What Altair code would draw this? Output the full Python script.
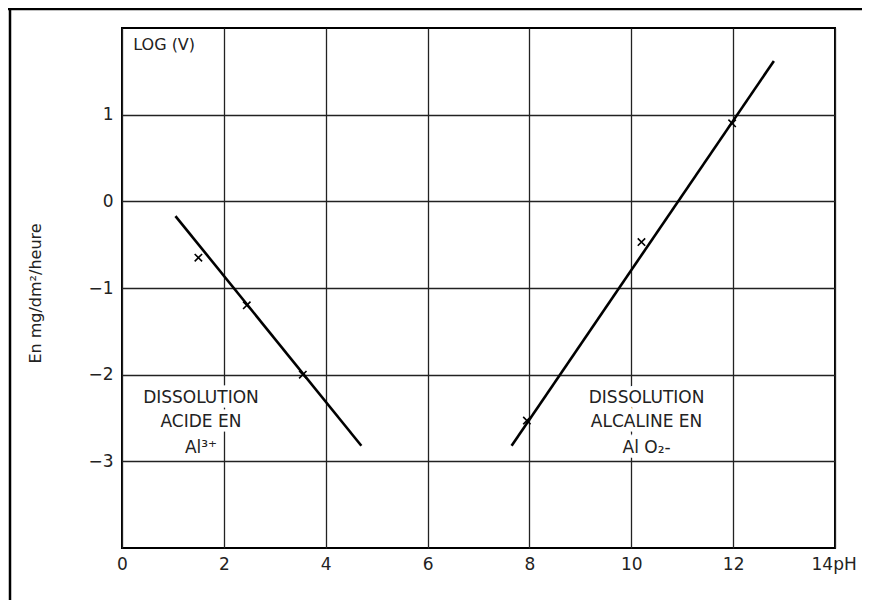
import altair as alt
import pandas as pd

# ---- data ----
acid_line_x = [1.05, 4.7]
acid_line_y = [-0.17, -2.82]
alk_line_x = [7.65, 12.8]
alk_line_y = [-2.82, 1.62]

acid_pts_x = [1.5, 2.45, 3.55]
acid_pts_y = [-0.65, -1.2, -2.0]
alk_pts_x = [7.95, 10.2, 11.98]
alk_pts_y = [-2.53, -0.47, 0.9]

x_ticks = [0, 2, 4, 6, 8, 10, 12, 14]
y_ticks = [-3, -2, -1, 0, 1]

ann_text = ["DISSOLUTION", "ACIDE  EN", "Al³⁺",
            "DISSOLUTION", "ALCALINE  EN", "Al O₂-"]
ann_x = [1.55, 1.55, 1.55, 10.3, 10.3, 10.3]
ann_y = [-2.27, -2.55, -2.85, -2.27, -2.55, -2.85]

FONT = "DejaVu Sans"

lines = pd.DataFrame({
    "x": acid_line_x + alk_line_x,
    "y": acid_line_y + alk_line_y,
    "seg": ["acid"] * 2 + ["alk"] * 2,
})
pts = pd.DataFrame({
    "x": acid_pts_x + alk_pts_x,
    "y": acid_pts_y + alk_pts_y,
})
ann = pd.DataFrame({"t": ann_text, "x": ann_x, "y": ann_y})
logv = pd.DataFrame({"t": ["LOG (V)"], "x": [0.22], "y": [1.8]})

xs = alt.Scale(domain=[0, 14], nice=False, zero=False)
ys = alt.Scale(domain=[-4, 2], nice=False, zero=False)

X = alt.X("x:Q", scale=xs, axis=alt.Axis(
    values=x_ticks, title=None, grid=True, gridColor="#222", gridWidth=1.3,
    gridOpacity=1, domain=False, ticks=False, labelPadding=8,
    labelExpr="datum.value == 14 ? '14pH' : datum.label",
    labelAlign=alt.condition("datum.value == 14", alt.value("left"),
                             alt.value("center")),
    labelOffset=alt.condition("datum.value == 14", alt.value(-24),
                              alt.value(0)),
    labelFont=FONT, labelFontSize=17, labelColor="#222"))
Y = alt.Y("y:Q", scale=ys, axis=alt.Axis(
    values=y_ticks, format="d", title="En mg/dm²/heure", grid=True,
    gridColor="#222", gridWidth=1.3, gridOpacity=1, domain=False,
    ticks=False, labelPadding=9,
    labelFont=FONT, labelFontSize=17, labelColor="#222",
    titleFont=FONT, titleFontSize=16, titleFontWeight="normal",
    titleColor="#222", titleAngle=-90, titleX=-79, titleY=265,
    titleAlign="center", titleBaseline="bottom"))

line_layer = alt.Chart(lines).mark_line(color="black", strokeWidth=2.6).encode(
    x=X, y=Y, detail="seg:N")

pt_layer = alt.Chart(pts).mark_point(
    shape="M-1,-1L1,1M-1,1L1,-1", size=55, color="black", strokeWidth=1.6,
    filled=False, opacity=1).encode(x="x:Q", y="y:Q")

halo = alt.Chart(ann).mark_text(
    font=FONT, fontSize=17, color="white", stroke="white", strokeWidth=9,
    align="center", baseline="middle").encode(x="x:Q", y="y:Q", text="t:N")
ann_layer = alt.Chart(ann).mark_text(
    font=FONT, fontSize=17, color="#222", align="center",
    baseline="middle").encode(x="x:Q", y="y:Q", text="t:N")

logv_halo = alt.Chart(logv).mark_text(
    font=FONT, fontSize=16, color="white", stroke="white", strokeWidth=6,
    align="left", baseline="middle").encode(x="x:Q", y="y:Q", text="t:N")
logv_layer = alt.Chart(logv).mark_text(
    font=FONT, fontSize=16, color="#222", align="left",
    baseline="middle").encode(x="x:Q", y="y:Q", text="t:N")

# outer frame of the scanned figure (top and left edges)
frame_top = alt.Chart(pd.DataFrame({"a": [0]})).mark_rule(
    color="black", strokeWidth=2.5).encode(
    x=alt.value(-114), x2=alt.value(760), y=alt.value(-19))
frame_left = alt.Chart(pd.DataFrame({"a": [0]})).mark_rule(
    color="black", strokeWidth=2.5).encode(
    x=alt.value(-112), y=alt.value(-20), y2=alt.value(600))

chart = alt.layer(
    halo, logv_halo, line_layer, pt_layer, ann_layer, logv_layer,
    frame_top, frame_left
).properties(
    width=713, height=520,
    autosize=alt.AutoSizeParams(type="none"),
    padding={"left": 114, "top": 20, "right": 27, "bottom": 52},
    background="white",
).configure_view(stroke="black", strokeWidth=2)

chart.save("out.html", embed_options={"renderer": "svg", "actions": False})
